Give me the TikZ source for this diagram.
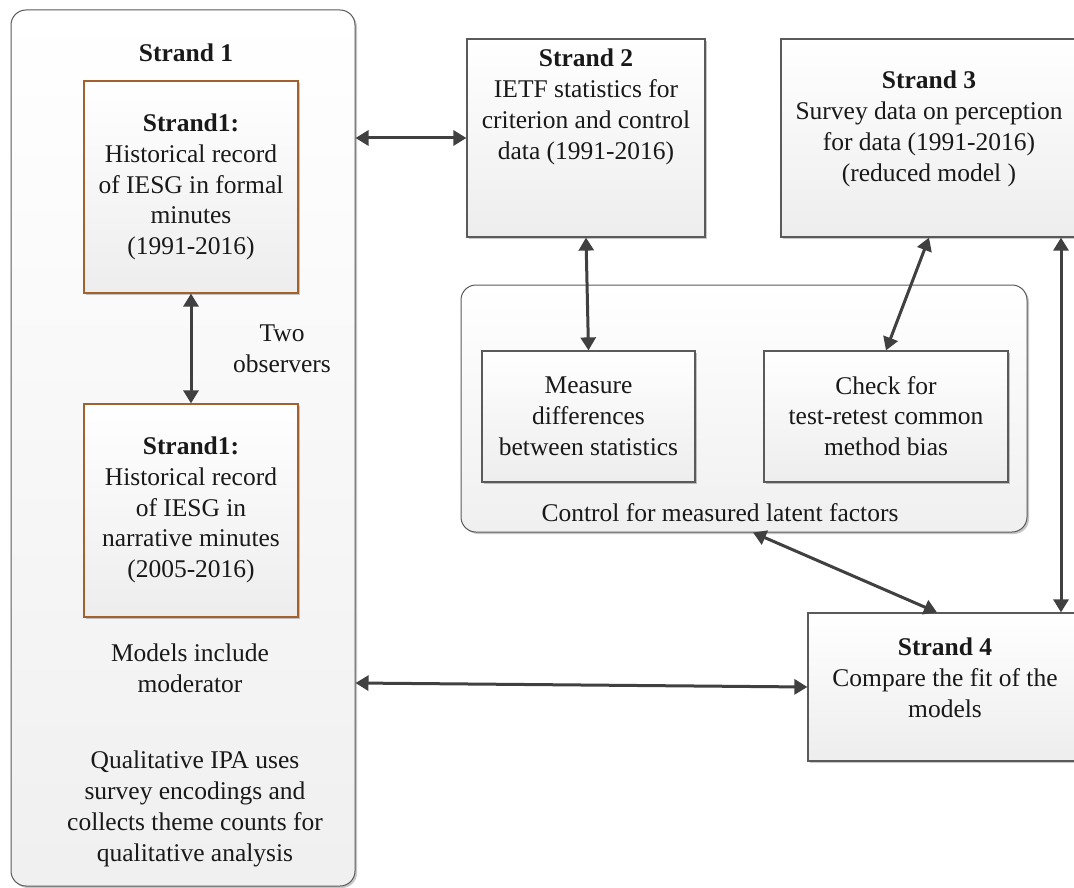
\documentclass[tikz,border=0pt]{standalone}
\usepackage{fontspec}
\setmainfont{Liberation Serif}
\usetikzlibrary{arrows.meta,shadows}

\definecolor{linegray}{RGB}{90,90,90}
\definecolor{arrowgray}{RGB}{64,64,64}
\definecolor{brownline}{RGB}{163,98,45}
\definecolor{inkblack}{RGB}{25,25,25}

\tikzset{
  softshadow/.style={drop shadow={opacity=0.22, shadow xshift=2pt, shadow yshift=-2pt, fill=black}},
  panel/.style={draw=linegray, line width=1pt, rounded corners=15pt,
    top color=white, bottom color=gray!12, softshadow, inner sep=0pt},
  greybox/.style={draw=linegray, line width=1.2pt,
    top color=white, bottom color=gray!14, softshadow, inner sep=0pt},
  brownbox/.style={draw=brownline, line width=1.2pt,
    top color=white, bottom color=gray!14, softshadow, inner sep=0pt},
  label/.style={align=center, text=inkblack, inner sep=0pt,
    font=\fontsize{25.5pt}{30.8pt}\selectfont},
  conn/.style={draw=arrowgray, line width=3pt,
    {Triangle[length=13pt,width=15pt]}-{Triangle[length=13pt,width=15pt]}},
}

\begin{document}
\begin{tikzpicture}[x=1pt,y=-1pt]
\useasboundingbox (0,0) rectangle (1074,888);
\clip (0,0) rectangle (1074,888);

% Strand 1 panel and its two record boxes
\node[panel, minimum width=344pt, minimum height=876pt] (s1) at (183,448) {};
\node[label] (s1title) at (186,53) {\textbf{Strand 1}};
\node[brownbox, minimum width=214pt, minimum height=212pt] (recA) at (191,187) {};
\node[label] (recAtext) at (191,187) {\textbf{Strand1:}\\Historical record\\of IESG in formal\\minutes\\(1991-2016)};
\node[brownbox, minimum width=214pt, minimum height=213pt] (recB) at (191,510.5) {};
\node[label] (recBtext) at (191,510) {\textbf{Strand1:}\\Historical record\\of IESG in\\narrative minutes\\(2005-2016)};
\node[label] (observers) at (282,349) {Two\\observers};
\node[label] (moderator) at (190,668) {Models include\\moderator};
\node[label] (ipa) at (195,809) {Qualitative IPA uses\\survey encodings and\\collects theme counts for\\qualitative analysis};

% Strands 2 and 3
\node[greybox, minimum width=238pt, minimum height=198pt] (s2) at (586,138) {};
\node[label] (s2text) at (586,107) {\textbf{Strand 2}\\IETF statistics for\\criterion and control\\data (1991-2016)};
\node[greybox, minimum width=296pt, minimum height=198pt] (s3) at (929,138) {};
\node[label] (s3text) at (929,129) {\textbf{Strand 3}\\Survey data on perception\\for data (1991-2016)\\(reduced model )};

% Latent factor controls
\node[panel, minimum width=566pt, minimum height=247pt] (ctrl) at (744,408.5) {};
\node[greybox, minimum width=213pt, minimum height=131pt] (measure) at (588.5,416.5) {};
\node[label] (measuretext) at (588.5,416) {Measure\\differences\\between statistics};
\node[greybox, minimum width=244pt, minimum height=131pt] (check) at (886,416.5) {};
\node[label] (checktext) at (886,416) {Check for\\test-retest common\\method bias};
\node[label] (ctrltext) at (720,513) {Control for measured latent factors};

% Strand 4
\node[greybox, minimum width=274pt, minimum height=148pt] (s4) at (945,687) {};
\node[label] (s4text) at (945,678) {\textbf{Strand 4}\\Compare the fit of the\\models};

% Connectors
\coordinate (rightrail) at (1061,0);
\draw[conn] (s1.east |- s2.west) -- (s2.west);
\draw[conn] (recA.south) -- (recB.north);
\draw[conn] (s2.south) -- (measure.north);
\draw[conn] (s3.south) -- (check.north);
\draw[conn] (s3.south -| rightrail) -- (s4.north -| rightrail);
\draw[conn] ([xshift=9pt]ctrl.south) -- ([xshift=-8pt]s4.north);
\draw[conn] ([yshift=4pt]s1.east |- s4.west) -- (s4.west);
\end{tikzpicture}
\end{document}
